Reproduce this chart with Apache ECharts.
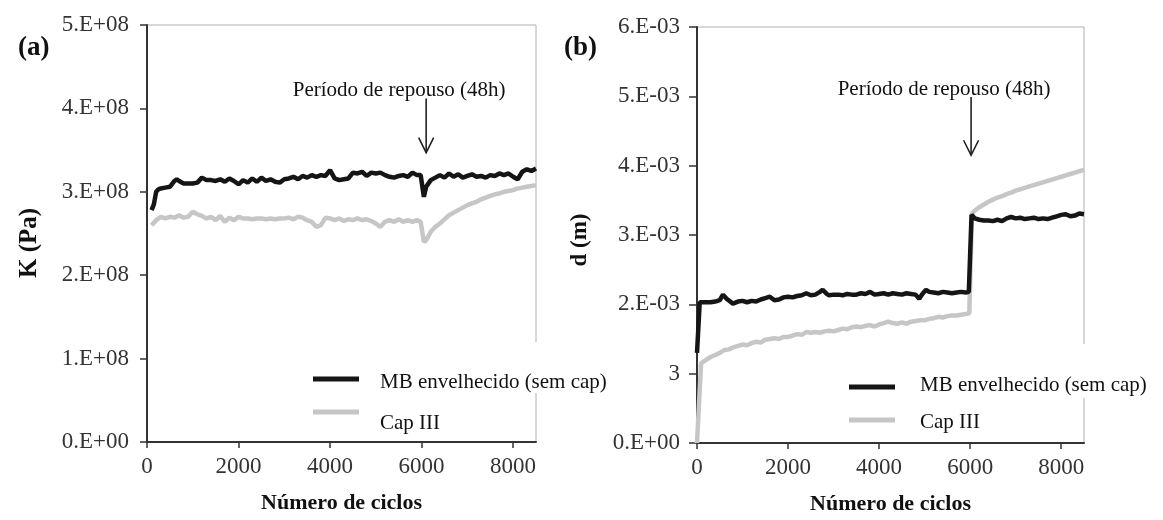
<!DOCTYPE html>
<html><head><meta charset="utf-8">
<script src="https://cdn.jsdelivr.net/npm/echarts/dist/echarts.min.js"></script>
<style>html,body{margin:0;padding:0;background:#fff}#c{width:1163px;height:520px}</style>
</head><body><div id="c"></div><script>
// ---------- data ----------
const xTickValues = [0, 2000, 4000, 6000, 8000];
const kTickLabels = ['0.E+00', '1.E+08', '2.E+08', '3.E+08', '4.E+08', '5.E+08'];
const dTickLabels = ['0.E+00', '3', '2.E-03', '3.E-03', '4.E-03', '5.E-03', '6.E-03'];
const seriesNames = ['MB envelhecido (sem cap)', 'Cap III'];

// Panel (a): K in units of 1E+08 Pa
const cyclesA = [100,150,200,250,300,400,500,600,650,700,800,900,1000,1100,1200,1300,1400,1500,1600,1700,1800,1900,2000,2100,2200,2300,2400,2500,2600,2700,2800,2900,3000,3100,3200,3300,3400,3500,3600,3700,3800,3900,4000,4100,4200,4300,4400,4500,4600,4700,4800,4900,5000,5100,5200,5300,5400,5500,5600,5700,5800,5900,5980,6050,6100,6200,6300,6400,6500,6600,6700,6800,6900,7000,7100,7200,7300,7400,7500,7600,7700,7800,7900,8000,8100,8200,8300,8400,8500];
const kMB = [2.78,2.85,3.00,3.03,3.04,3.05,3.06,3.13,3.15,3.13,3.10,3.10,3.10,3.11,3.17,3.14,3.14,3.13,3.15,3.12,3.16,3.13,3.09,3.14,3.11,3.16,3.12,3.17,3.13,3.15,3.12,3.11,3.15,3.16,3.18,3.15,3.19,3.17,3.20,3.18,3.20,3.19,3.26,3.16,3.14,3.15,3.16,3.23,3.22,3.24,3.19,3.23,3.22,3.23,3.20,3.18,3.17,3.19,3.20,3.18,3.23,3.20,3.20,2.94,3.06,3.14,3.17,3.20,3.17,3.22,3.18,3.21,3.17,3.19,3.21,3.18,3.19,3.17,3.20,3.19,3.22,3.20,3.22,3.18,3.15,3.24,3.27,3.25,3.28];
const cyclesA2 = [100,200,300,400,500,600,700,800,900,1000,1100,1200,1300,1400,1500,1600,1700,1800,1900,2000,2100,2200,2300,2400,2500,2600,2700,2800,2900,3000,3100,3200,3300,3400,3500,3600,3700,3800,3900,4000,4100,4200,4300,4400,4500,4600,4700,4800,4900,5000,5100,5200,5300,5400,5500,5600,5700,5800,5900,5980,6050,6100,6200,6300,6400,6500,6600,6700,6800,6900,7000,7100,7200,7300,7400,7500,7600,7700,7800,7900,8000,8100,8200,8300,8400,8500];
const kCap = [2.60,2.66,2.70,2.68,2.70,2.69,2.72,2.69,2.70,2.76,2.73,2.71,2.68,2.70,2.66,2.71,2.64,2.69,2.66,2.70,2.68,2.68,2.67,2.68,2.68,2.67,2.68,2.67,2.68,2.68,2.69,2.67,2.70,2.69,2.66,2.64,2.58,2.60,2.69,2.68,2.66,2.68,2.65,2.67,2.66,2.68,2.66,2.67,2.65,2.62,2.58,2.64,2.66,2.64,2.67,2.64,2.66,2.64,2.66,2.64,2.40,2.42,2.52,2.58,2.62,2.67,2.72,2.75,2.78,2.81,2.84,2.86,2.88,2.91,2.93,2.95,2.97,2.98,3.00,3.01,3.02,3.04,3.05,3.06,3.07,3.08];

// Panel (b): d in units of 1E-03 m
const cyclesB = [0,60,200,300,400,500,570,650,790,900,1000,1100,1200,1300,1400,1500,1600,1700,1800,1900,2000,2100,2200,2300,2400,2500,2600,2700,2760,2850,2900,3000,3100,3200,3300,3400,3500,3600,3700,3800,3900,4000,4100,4200,4300,4400,4500,4600,4700,4800,4880,4950,5030,5100,5200,5300,5400,5500,5600,5700,5800,5900,5970,6030,6100,6200,6300,6400,6500,6600,6700,6800,6900,7000,7100,7200,7300,7400,7500,7600,7700,7800,7900,8000,8100,8200,8300,8400,8500];
const dMB = [1.30,2.03,2.03,2.03,2.04,2.06,2.14,2.08,2.01,2.04,2.05,2.03,2.05,2.04,2.07,2.09,2.11,2.06,2.07,2.10,2.11,2.10,2.12,2.13,2.16,2.13,2.14,2.18,2.21,2.15,2.13,2.14,2.14,2.13,2.15,2.14,2.14,2.16,2.15,2.18,2.14,2.15,2.16,2.14,2.16,2.15,2.14,2.16,2.15,2.14,2.08,2.15,2.21,2.18,2.17,2.16,2.18,2.17,2.16,2.17,2.18,2.17,2.18,3.29,3.24,3.22,3.21,3.21,3.20,3.22,3.20,3.24,3.26,3.24,3.25,3.23,3.24,3.25,3.23,3.24,3.23,3.25,3.27,3.29,3.30,3.27,3.28,3.31,3.30];
const cyclesB2 = [0,90,200,300,400,500,600,700,800,900,1000,1100,1200,1300,1400,1500,1600,1700,1800,1900,2000,2100,2200,2300,2400,2500,2600,2700,2800,2900,3000,3100,3200,3300,3400,3500,3600,3700,3800,3900,4000,4100,4200,4300,4400,4500,4600,4700,4800,4900,5000,5100,5200,5300,5400,5500,5600,5700,5800,5900,5980,6040,6100,6200,6300,6400,6500,6600,6700,6800,6900,7000,7100,7200,7300,7400,7500,7600,7700,7800,7900,8000,8100,8200,8300,8400,8500];
const dCap = [0.00,1.15,1.20,1.24,1.27,1.30,1.34,1.35,1.38,1.40,1.42,1.41,1.44,1.46,1.45,1.49,1.50,1.51,1.50,1.53,1.53,1.55,1.57,1.56,1.60,1.59,1.60,1.59,1.61,1.62,1.61,1.63,1.65,1.64,1.67,1.68,1.67,1.69,1.70,1.68,1.71,1.73,1.75,1.73,1.72,1.74,1.72,1.75,1.76,1.77,1.77,1.79,1.80,1.82,1.81,1.83,1.84,1.84,1.85,1.86,1.87,3.31,3.35,3.40,3.44,3.48,3.51,3.54,3.56,3.59,3.61,3.64,3.66,3.68,3.70,3.72,3.74,3.76,3.78,3.80,3.82,3.84,3.86,3.88,3.90,3.92,3.94];

// annotation ("Período de repouso (48h)") arrow: cycle, top, tip
const restLabel = 'Período de repouso (48h)';
const arrowA = [6100, 4.12, 3.47];   // K units 1E+08
const arrowB = [6020, 4.99, 4.15];   // d units 1E-03

// ---------- styles ----------
const FONT = '"Liberation Serif", "Times New Roman", serif';
const BLACK = '#151515', GRAY = '#c6c6c6', AX = '#333';
const K = 1e8, D = 1e-3;

function pairs(xs, ys, s) { return xs.map((x, i) => [x, ys[i] * s]); }

function xAxisCfg(gi) {
  return {
    type: 'value', gridIndex: gi, min: 0, max: 8500,
    axisLine: { show: true, onZero: false, lineStyle: { color: AX, width: 2 } },
    axisTick: { show: true, length: 6, customValues: xTickValues, lineStyle: { color: AX, width: 1.5 } },
    axisLabel: { customValues: xTickValues, margin: 13, fontFamily: FONT, fontSize: 23, color: '#333',
      formatter: v => String(Math.round(v)) },
    splitLine: { show: false },
    name: 'Número de ciclos', nameLocation: 'middle', nameGap: 50,
    nameTextStyle: { fontFamily: FONT, fontSize: 22, fontWeight: 'bold', color: '#111' }
  };
}

const option = {
  animation: false,
  backgroundColor: '#fff',
  grid: [
    { left: 147, right: 627, top: 25, bottom: 78, show: true, borderColor: '#b0b0b0', borderWidth: 1 },
    { left: 697, right: 79, top: 27, bottom: 77, show: true, borderColor: '#b0b0b0', borderWidth: 1 }
  ],
  xAxis: [xAxisCfg(0), xAxisCfg(1)],
  yAxis: [
    {
      type: 'value', gridIndex: 0, min: 0, max: 5 * K, interval: K,
      axisLine: { show: true, lineStyle: { color: AX, width: 2 } },
      axisTick: { show: true, length: 7, lineStyle: { color: AX, width: 1.5 } },
      axisLabel: { margin: 18, fontFamily: FONT, fontSize: 23, color: '#333',
        formatter: v => kTickLabels[Math.round(v / K)] },
      splitLine: { show: false }
    },
    {
      type: 'value', gridIndex: 1, min: 0, max: 6 * D, interval: D,
      axisLine: { show: true, lineStyle: { color: AX, width: 2 } },
      axisTick: { show: true, length: 8, lineStyle: { color: AX, width: 1.5 } },
      axisLabel: { margin: 17, fontFamily: FONT, fontSize: 23, color: '#333',
        formatter: v => dTickLabels[Math.round(v / D)] },
      splitLine: { show: false }
    }
  ],
  series: [
    { name: seriesNames[1], type: 'line', xAxisIndex: 0, yAxisIndex: 0, showSymbol: false,
      data: pairs(cyclesA2, kCap, K), lineStyle: { color: GRAY, width: 4.5 }, z: 2 },
    { name: seriesNames[0], type: 'line', xAxisIndex: 0, yAxisIndex: 0, showSymbol: false,
      data: pairs(cyclesA, kMB, K), lineStyle: { color: BLACK, width: 4.5 }, z: 3 },
    { name: seriesNames[1], type: 'line', xAxisIndex: 1, yAxisIndex: 1, showSymbol: false,
      data: pairs(cyclesB2, dCap, D), lineStyle: { color: GRAY, width: 4.5 }, z: 2 },
    { name: seriesNames[0], type: 'line', xAxisIndex: 1, yAxisIndex: 1, showSymbol: false,
      data: pairs(cyclesB, dMB, D), lineStyle: { color: BLACK, width: 4.5 }, z: 3 }
  ]
};

const chart = echarts.init(document.getElementById('c'), null, { renderer: 'canvas' });
chart.setOption(option);

// ---------- annotations & legends ----------
const g = [];
function txt(x, y, text, size, bold, align, vAlign, rot) {
  g.push({ type: 'text', x, y, rotation: rot || 0, z: 100,
    style: { text, fontFamily: FONT, fontSize: size, fontWeight: bold ? 'bold' : 'normal',
      fill: '#111', align: align || 'left', verticalAlign: vAlign || 'alphabetic' } });
}
function arrow(gi, a, scale) {
  const top = chart.convertToPixel({ gridIndex: gi }, [a[0], a[1] * scale]);
  const tip = chart.convertToPixel({ gridIndex: gi }, [a[0], a[2] * scale]);
  const ls = { stroke: '#222', lineWidth: 1.6, fill: null };
  g.push({ type: 'polyline', z: 100, shape: { points: [[top[0], top[1]], [tip[0], tip[1]]] }, style: ls });
  g.push({ type: 'polyline', z: 100, shape: { points: [[tip[0] - 7.5, tip[1] - 15], [tip[0], tip[1]], [tip[0] + 7.5, tip[1] - 15]] }, style: ls });
  txt(top[0] - 27, top[1] - 18, restLabel, 21, false, 'center', 'alphabetic');
}
arrow(0, arrowA, K);
arrow(1, arrowB, D);

// panel letters
txt(18, 35, '(a)', 27, true);
txt(564, 35, '(b)', 27, true);
// y axis names
txt(30, 243, 'K (Pa)', 25, true, 'center', 'middle', Math.PI / 2);
txt(580, 240, 'd (m)', 23, true, 'center', 'middle', Math.PI / 2);

// legends
function legend(lx, lineY1, lineY2, tx, ty1, ty2, box) {
  g.push({ type: 'rect', z: 90, shape: box, style: { fill: '#fff' } });
  g.push({ type: 'line', z: 100, shape: { x1: lx, y1: lineY1, x2: lx + 46, y2: lineY1 }, style: { stroke: BLACK, lineWidth: 5 } });
  g.push({ type: 'line', z: 100, shape: { x1: lx, y1: lineY2, x2: lx + 46, y2: lineY2 }, style: { stroke: GRAY, lineWidth: 5 } });
  txt(tx, ty1, seriesNames[0], 21);
  txt(tx, ty2, seriesNames[1], 21);
}
legend(313, 379, 412, 380, 372, 413, { x: 376, y: 342, width: 236, height: 51 });
legend(849, 387, 420, 920, 375, 412, { x: 898, y: 344, width: 258, height: 54 });

chart.setOption({ graphic: { elements: g } });
</script></body></html>
